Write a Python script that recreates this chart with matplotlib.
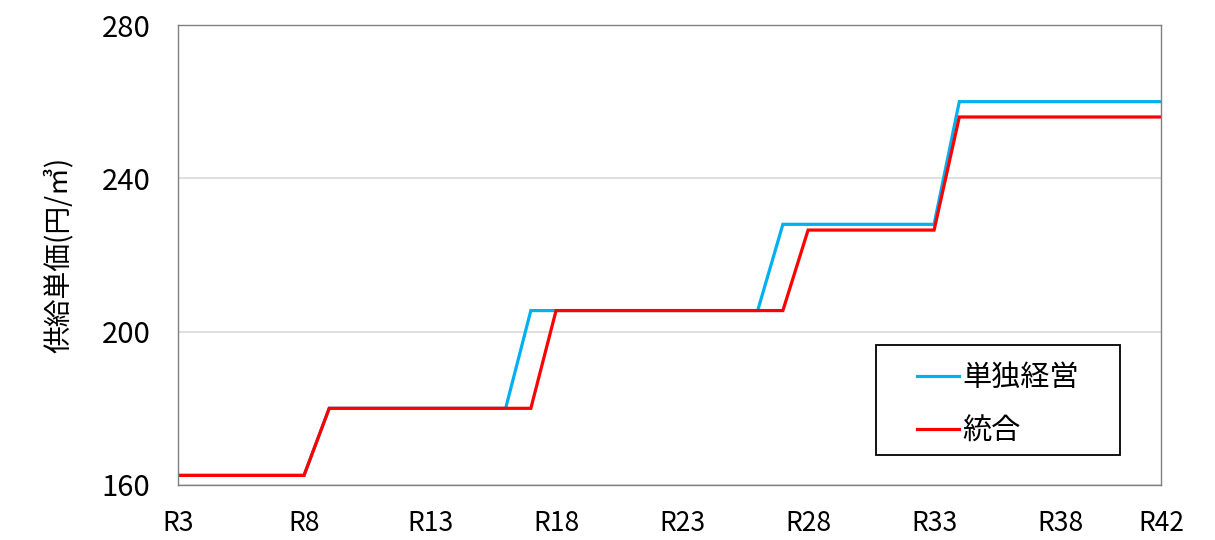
import numpy as np
import matplotlib.pyplot as plt
from matplotlib.patches import Rectangle

plt.rcParams['font.family'] = ['Noto Sans CJK JP', 'DejaVu Sans']

# fiscal years R3..R42
years = np.arange(3, 43)

# 単独経営 (stand-alone) unit price per year
single = [162.5] * 6 + [180] * 8 + [205.5] * 10 + [228] * 7 + [260] * 9
# 統合 (integrated) unit price per year
merged = [162.5] * 6 + [180] * 9 + [205.5] * 10 + [226.5] * 6 + [256] * 9

xtick_years = [3, 8, 13, 18, 23, 28, 33, 38, 42]
xtick_labels = ['R%d' % y for y in xtick_years]
yticks = [160, 200, 240, 280]

fig = plt.figure(figsize=(12.15, 5.4), dpi=100)
ax = fig.add_axes([0.1465, 0.1019, 0.809, 0.8518])

ax.plot(years, single, color='#00B0F0', lw=2.3, label='単独経営', solid_joinstyle='miter')
ax.plot(years, merged, color='#FF0000', lw=2.3, label='統合', solid_joinstyle='miter')

ax.set_xlim(3, 42)
ax.set_ylim(160, 280)
ax.set_xticks(xtick_years)
ax.set_xticklabels(xtick_labels)
ax.set_yticks(yticks)
ax.tick_params(axis='both', length=0)
ax.tick_params(axis='x', labelsize=19, pad=18)
ax.tick_params(axis='y', labelsize=21, pad=20)
ax.grid(axis='y', color='#d9d9d9', lw=1.2)
ax.set_axisbelow(True)
for s in ax.spines.values():
    s.set_color('#808080')
    s.set_linewidth(1.0)

ax.set_ylabel('供給単価(円/㎥)', fontsize=20, labelpad=20)

# legend frame drawn separately (reference box is wider than the text)
ax.add_patch(Rectangle((0.71, 0.065), 0.248, 0.239, transform=ax.transAxes,
                       fill=True, facecolor='white', edgecolor='black', lw=1.3, zorder=5))
leg = ax.legend(loc='center', bbox_to_anchor=(0.834, 0.174), fontsize=21,
                frameon=False, handlelength=1.45, handletextpad=0.1,
                labelspacing=0.8, borderaxespad=0)
leg.set_zorder(6)

fig.savefig('out.png', dpi=100)
